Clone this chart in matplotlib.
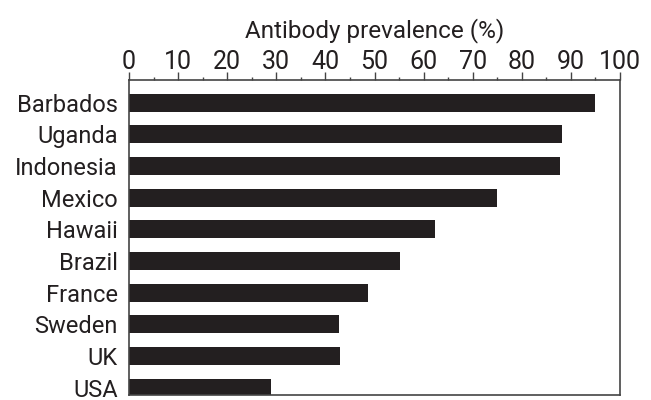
import matplotlib
matplotlib.use("Agg")
import matplotlib.pyplot as plt
from matplotlib.ticker import MultipleLocator

countries = ["Barbados", "Uganda", "Indonesia", "Mexico", "Hawaii",
             "Brazil", "France", "Sweden", "UK", "USA"]
prevalence = [95.0, 88.2, 87.8, 75.0, 62.4, 55.1, 48.6, 42.7, 42.9, 28.9]
xticks = [0, 10, 20, 30, 40, 50, 60, 70, 80, 90, 100]

plt.rcParams['font.family'] = ["Roboto", "DejaVu Sans"]

fig = plt.figure(figsize=(6.51, 4.0), dpi=100)
ax = fig.add_axes([129/651, 5/400, 491/651, 315/400])

ypos = list(range(len(countries)))
ax.barh(ypos, prevalence, height=0.57, color="#231f20")
ax.set_xlim(0, 100)
ax.set_ylim(9.23, -0.72)
ax.set_yticks(ypos)
ax.set_yticklabels(countries, fontsize=17, color="#231f20")
ax.set_xticks(xticks)
ax.set_xticklabels([str(t) for t in xticks], fontsize=18, color="#231f20")
ax.xaxis.set_minor_locator(MultipleLocator(5))
ax.xaxis.tick_top()
ax.xaxis.set_label_position("top")
ax.set_xlabel("Antibody prevalence (%)", fontsize=17.5, labelpad=9, color="#231f20")
ax.tick_params(axis="x", which="major", direction="out", length=5.5, width=1, pad=-1, color="#444444")
ax.tick_params(axis="x", which="minor", direction="out", length=2.5, width=1, color="#444444")
ax.tick_params(axis="y", length=0, pad=8)
for s in ax.spines.values():
    s.set_color("#444444")
    s.set_linewidth(1.2)

fig.savefig("out.png", dpi=100)
